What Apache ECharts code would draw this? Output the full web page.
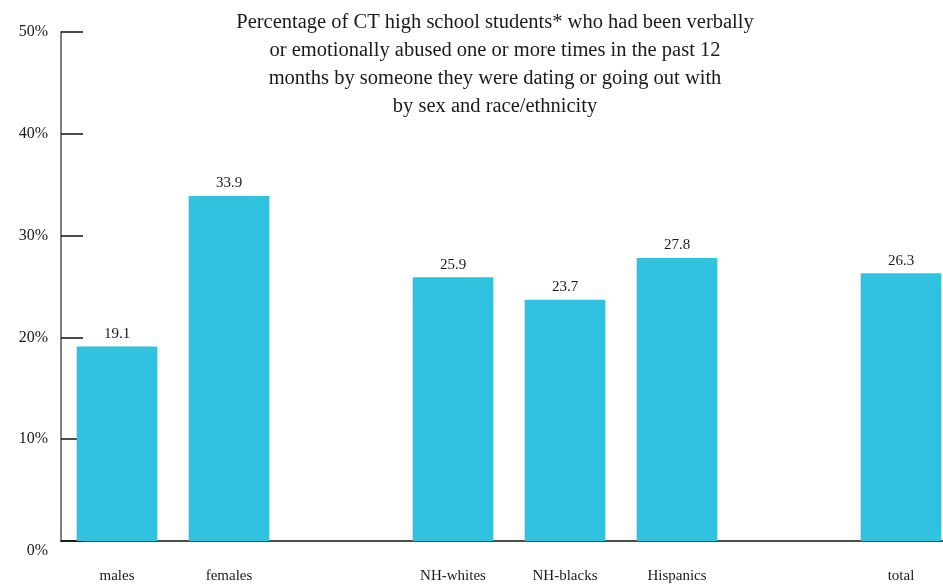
<!DOCTYPE html>
<html>
<head>
<meta charset="utf-8">
<script src="https://cdn.jsdelivr.net/npm/echarts@6/dist/echarts.min.js"></script>
<style>
  html, body { margin: 0; padding: 0; background: #fff; overflow: hidden; }
  #chart { width: 943px; height: 584px; }
</style>
</head>
<body>
<div id="chart"></div>
<script>
// Groups along the x axis; empty names leave gaps between the groups
const categories = ['males', 'females', '', 'NH-whites', 'NH-blacks', 'Hispanics', '', 'total'];
const percents = [19.1, 33.9, null, 25.9, 23.7, 27.8, null, 26.3];
const yTicks = [0, 10, 20, 30, 40, 50];

const titleText = 'Percentage of CT high school students* who had been verbally\n' +
  'or emotionally abused one or more times in the past 12\n' +
  'months by someone they were dating or going out with\n' +
  'by sex and race/ethnicity';

const serif = '"Liberation Serif", "DejaVu Serif", serif';

const chart = echarts.init(document.getElementById('chart'));
chart.setOption({
  animation: false,
  backgroundColor: '#ffffff',
  title: {
    text: titleText,
    left: 490,
    top: 4,
    textAlign: 'center',
    textStyle: {
      fontFamily: serif,
      fontWeight: 'normal',
      fontSize: 20.5,
      lineHeight: 28,
      color: '#1a1a1a'
    }
  },
  // the plot runs slightly past the right edge of the canvas
  grid: { left: 61, width: 896, top: 32, bottom: 43, containLabel: false, outerBoundsMode: 'none' },
  xAxis: {
    type: 'category',
    data: categories,
    axisLine: { lineStyle: { color: '#111', width: 1.5 } },
    axisTick: { show: false },
    axisLabel: {
      margin: 28,
      fontFamily: serif,
      fontSize: 15,
      color: '#1a1a1a',
      interval: 0
    }
  },
  yAxis: {
    type: 'value',
    min: yTicks[0],
    max: yTicks[yTicks.length - 1],
    interval: 10,
    splitLine: { show: false },
    axisLine: { show: true, lineStyle: { color: '#555', width: 1.5 } },
    axisTick: { show: true, inside: true, length: 22, lineStyle: { color: '#111', width: 1.5 } },
    axisLabel: {
      margin: 13,
      fontFamily: serif,
      fontSize: 16,
      color: '#1a1a1a',
      formatter: v => v === 0 ? '{low|0%}' : v + '%',
      rich: {
        low: { fontFamily: serif, fontSize: 16, color: '#1a1a1a', padding: [20, 0, 0, 0] }
      }
    }
  },
  series: [{
    type: 'bar',
    data: percents,
    barWidth: '72%',
    itemStyle: { color: '#31c2df' },
    label: {
      show: true,
      position: 'top',
      distance: 5,
      fontFamily: serif,
      fontSize: 15,
      color: '#1a1a1a',
      formatter: p => p.value.toFixed(1)
    }
  }]
});
</script>
</body>
</html>
